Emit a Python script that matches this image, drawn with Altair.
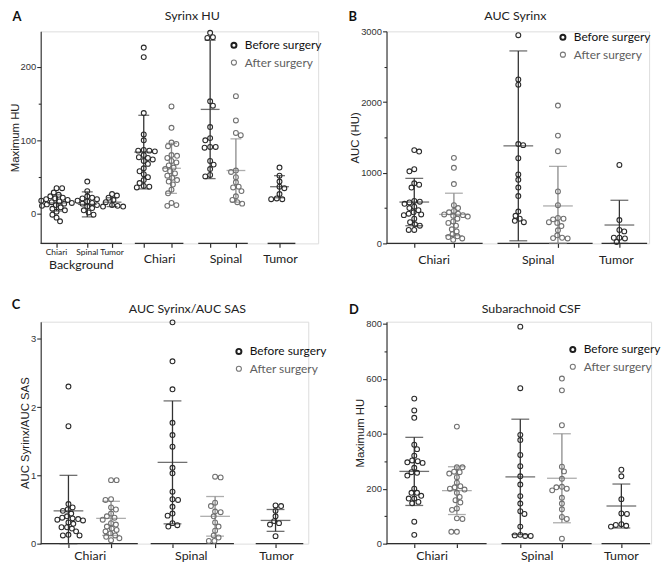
import altair as alt
import pandas as pd

FONT = "Lato"
BEFORE = "Before surgery"
AFTER = "After surgery"
AX = "#2e2e2e"

# ---------------- data ----------------
# Panel A: Syrinx HU (Maximum HU)
a_bg_chiari = [35, 35, 29, 26, 24, 22, 21, 20, 19, 18, 17, 16, 15, 14, 13, 12, 11, 9, 7, 5, 3, -1, -5, -10]
a_bg_spinal = [44, 31, 24, 22, 21, 20, 18, 17, 15, 14, 12, 10, 8, 5, 2, -1]
a_bg_tumor = [27, 25, 22, 19, 16, 12, 11, 10, 10]
a_chiari_before = [226, 213, 137, 108, 100, 87, 86, 86, 85, 80, 77, 76, 74, 72, 68, 62, 58, 54, 50, 46, 42, 38, 37, 36]
a_chiari_after = [146, 117, 97, 95, 92, 80, 79, 76, 72, 70, 66, 63, 61, 58, 55, 52, 49, 46, 44, 40, 33, 28, 15, 12, 11]
a_spinal_before = [246, 240, 239, 153, 147, 118, 103, 100, 91, 91, 90, 72, 67, 61, 53, 51]
a_spinal_after = [160, 127, 110, 107, 59, 57, 50, 43, 37, 36, 31, 24, 19, 16, 14]
a_tumor = [63, 52, 44, 37, 35, 27, 21, 20, 20]
a_mean = [15, 13, 16, 84, 62, 142, 59, 37]
a_sd = [11, 17, 6, 50, 34, 94, 43, 15]

# Panel B: AUC Syrinx
b_chiari_before = [1320, 1300, 1050, 1020, 850, 830, 790, 600, 590, 580, 560, 520, 500, 470, 440, 420, 410, 400, 350, 300, 270, 250, 190, 190]
b_chiari_after = [1210, 1070, 840, 540, 500, 460, 440, 420, 410, 400, 390, 380, 350, 310, 290, 250, 200, 170, 130, 100, 90, 70, 50]
b_spinal_before = [2945, 2320, 2245, 1405, 1390, 1205, 975, 900, 790, 670, 450, 390, 350, 320, 300]
b_spinal_after = [1950, 1525, 1305, 735, 540, 360, 350, 340, 300, 290, 245, 185, 115, 80, 75, 70]
b_tumor = [1110, 330, 190, 170, 80, 80, 70, 20]
b_mean = [585, 410, 1380, 530, 260]
b_sd = [335, 300, 1343, 560, 350]

# Panel C: AUC Syrinx / AUC SAS
c_chiari_before = [2.30, 1.72, 0.58, 0.53, 0.50, 0.48, 0.44, 0.40, 0.38, 0.37, 0.36, 0.35, 0.34, 0.31, 0.29, 0.24, 0.24, 0.22, 0.18, 0.13, 0.12, 0.12]
c_chiari_after = [0.93, 0.93, 0.65, 0.64, 0.53, 0.50, 0.44, 0.40, 0.38, 0.35, 0.30, 0.28, 0.25, 0.22, 0.20, 0.18, 0.15, 0.12, 0.10, 0.08, 0.05]
c_spinal_before = [3.24, 2.67, 2.26, 1.77, 1.59, 1.42, 1.11, 1.03, 0.76, 0.65, 0.64, 0.54, 0.44, 0.41, 0.30, 0.27, 0.25]
c_spinal_after = [0.98, 0.97, 0.60, 0.55, 0.47, 0.46, 0.40, 0.31, 0.25, 0.19, 0.12, 0.09, 0.04, 0.04]
c_tumor = [0.56, 0.55, 0.48, 0.40, 0.33, 0.30, 0.28, 0.11]
c_mean = [0.48, 0.37, 1.19, 0.40, 0.34]
c_sd = [0.52, 0.25, 0.90, 0.29, 0.16]

# Panel D: Subarachnoid CSF (Maximum HU)
d_chiari_before = [528, 485, 458, 360, 344, 320, 303, 300, 296, 294, 276, 260, 258, 248, 200, 185, 185, 174, 164, 164, 152, 147, 80, 32]
d_chiari_after = [426, 278, 278, 262, 260, 255, 242, 222, 209, 205, 200, 197, 185, 170, 158, 150, 128, 123, 92, 90, 43, 43]
d_spinal_before = [790, 566, 396, 377, 323, 282, 245, 215, 173, 146, 118, 108, 62, 32, 30, 28, 28]
d_spinal_after = [601, 558, 431, 280, 263, 236, 207, 205, 200, 194, 167, 146, 125, 97, 90, 18]
d_tumor = [269, 245, 162, 110, 108, 71, 68, 65, 62]
d_mean = [263, 193, 243, 238, 137]
d_sd = [124, 87, 210, 162, 80]

group_names = ["Chiari", "Spinal", "Tumor"]
legend_items = [BEFORE, AFTER]


# ---------------- helpers ----------------
def swarm(vals, ppu, diam=5.0, step=0.7):
    order = sorted(range(len(vals)), key=lambda i: -vals[i])
    placed, out = [], [0.0] * len(vals)
    flip = 1
    for i in order:
        y = vals[i] * ppu
        j = 0
        chosen = None
        while chosen is None:
            cands = [0.0] if j == 0 else [flip * j * step, -flip * j * step]
            for c in cands:
                if all((c - px) ** 2 + (y - py) ** 2 >= diam * diam for px, py in placed):
                    chosen = c
                    break
            j += 1
        if chosen != 0:
            flip = -flip
        placed.append((chosen, y))
        out[i] = chosen
    return out


def make_panel(p):
    W, H = p["width"], p["height"]
    y0, y1 = p["ydom"]
    ppu = H / (y1 - y0)
    pts, stats = [], []
    for (slot, vals, mean, sd, phase) in p["groups"]:
        offs = swarm(vals, ppu)
        for v, o in zip(vals, offs):
            pts.append({"x": slot + o, "v": v, "phase": phase})
        stats.append({"x": slot, "mean": mean, "lo": max(mean - sd, y0), "hi": mean + sd, "kind": phase})
    ptdf = pd.DataFrame(pts)
    stdf = pd.DataFrame(stats)
    segdf = pd.DataFrame([{"x1": a, "x2": b, "yb": y0} for a, b in p["segments"]])

    xs = alt.Scale(domain=[0, W], nice=False, zero=False)
    ys = alt.Scale(domain=[y0, y1], nice=False, zero=False)
    step = p["major"]
    xaxis = alt.Axis(values=[g[0] for g in p["groups"]], labels=False, domain=False, ticks=True,
                     tickSize=4, tickColor=AX, tickWidth=1.2, grid=False, title=None)
    yaxis = alt.Axis(values=p["yticks"], title=p["ytitle"], format="d",
                     labelExpr=f"datum.value % {step} === 0 ? datum.label : ''",
                     tickSize={"condition": {"test": f"datum.value % {step} === 0", "value": 4}, "value": 2.5},
                     domainColor=AX, tickColor=AX, labelColor="#333", labelFontSize=9.5,
                     titleFontSize=11.5, titleFontWeight="normal", titleColor="#222",
                     titlePadding=0, labelPadding=1, grid=False, domainWidth=1.1, tickWidth=1.1)

    def X(f):
        return alt.X(f, type="quantitative", scale=xs, axis=xaxis)

    def Y(f):
        return alt.Y(f, type="quantitative", scale=ys, axis=yaxis)

    cenc = alt.Color("kind:N", scale=alt.Scale(domain=[BEFORE, AFTER], range=["#333333", "#8a8a8a"]), legend=None)
    penc = alt.Stroke("phase:N", scale=alt.Scale(domain=[BEFORE, AFTER], range=["#2b2b2b", "#707070"]),
                      legend=None)

    seg = alt.Chart(segdf).mark_rule(color=AX, strokeWidth=1.4).encode(x=X("x1"), x2="x2", y=Y("yb"))
    bars = alt.Chart(stdf).mark_rule(strokeWidth=1.3).encode(x=X("x"), y=Y("lo"), y2="hi", color=cenc)
    caps = (alt.Chart(stdf).transform_fold(["lo", "hi"], as_=["k", "cap"])
            .mark_tick(orient="horizontal", size=p["cap_w"], thickness=1.3)
            .encode(x=X("x"), y=Y("cap"), color=cenc))
    means = (alt.Chart(stdf).mark_tick(orient="horizontal", size=p["mean_w"], thickness=1.3)
             .encode(x=X("x"), y=Y("mean"), color=cenc))
    points = (alt.Chart(ptdf).mark_point(filled=False, size=24, strokeWidth=1.1, opacity=1)
              .encode(x=X("x"), y=Y("v"), stroke=penc))

    labdf = pd.DataFrame(p["labels"], columns=["x", "t"])
    labs = (alt.Chart(labdf).mark_text(font=FONT, fontSize=12.5, color="#222", baseline="middle")
            .encode(x=X("x"), y=alt.value(H + p["label_dy"]), text="t:N"))
    layers = [seg, bars, caps, means, points, labs]
    if p.get("sublabels"):
        sdf = pd.DataFrame(p["sublabels"], columns=["x", "t"])
        layers.append(alt.Chart(sdf).mark_text(font=FONT, fontSize=8.5, color="#222", baseline="middle")
                      .encode(x=X("x"), y=alt.value(H + 9), text="t:N"))
        bdf = pd.DataFrame([p["biglabel"]], columns=["x", "t"])
        layers.append(alt.Chart(bdf).mark_text(font=FONT, fontSize=12.5, color="#222", baseline="middle")
                      .encode(x=X("x"), y=alt.value(H + 22), text="t:N"))

    # legend (symbol + label for each phase)
    lx, ly = p["legend"]
    styles = [("#1e1e1e", 2.0, "#111111"), ("#777777", 1.1, "#5e5e5e")]
    for i, name in enumerate(legend_items):
        sc, sw, tc = styles[i]
        d = pd.DataFrame({"t": [name]})
        layers.append(alt.Chart(d).mark_point(filled=False, size=26, strokeWidth=sw, color=sc, opacity=1)
                      .encode(x=alt.value(lx), y=alt.value(ly + 17.5 * i)))
        layers.append(alt.Chart(d).mark_text(font=FONT, fontSize=12, color=tc, align="left", baseline="middle")
                      .encode(x=alt.value(lx + 11), y=alt.value(ly + 17.5 * i), text="t:N"))

    tdf = pd.DataFrame({"t": [p["title"]]})
    layers.append(alt.Chart(tdf).mark_text(font=FONT, fontSize=12.5, color="#222", baseline="top")
                  .encode(x=alt.value(p["title_xy"][0]), y=alt.value(p["title_xy"][1]), text="t:N"))
    ldf = pd.DataFrame({"t": [p["letter"]]})
    layers.append(alt.Chart(ldf).mark_text(font=FONT, fontSize=13, fontWeight="bold", color="#111", baseline="top")
                  .encode(x=alt.value(p["letter_xy"][0]), y=alt.value(p["letter_xy"][1]), text="t:N"))
    return alt.layer(*layers).properties(width=W, height=H)


A = dict(
    letter="A", title="Syrinx HU", ytitle="Maximum HU", width=280, height=214, ydom=(-40, 248),
    major=100, yticks=[0, 50, 100, 150, 200],
    groups=[(16, a_bg_chiari, a_mean[0], a_sd[0], BEFORE), (47, a_bg_spinal, a_mean[1], a_sd[1], BEFORE),
            (72, a_bg_tumor, a_mean[2], a_sd[2], BEFORE),
            (104, a_chiari_before, a_mean[3], a_sd[3], BEFORE), (132, a_chiari_after, a_mean[4], a_sd[4], AFTER),
            (171, a_spinal_before, a_mean[5], a_sd[5], BEFORE), (197, a_spinal_after, a_mean[6], a_sd[6], AFTER),
            (241, a_tumor, a_mean[7], a_sd[7], BEFORE)],
    segments=[(0, 82), (95, 144), (159, 209), (229, 257)],
    labels=list(zip([120, 187, 242], group_names)),
    sublabels=list(zip([16, 47, 72], group_names)), biglabel=(41, "Background"),
    label_dy=16, legend=(195, 14), mean_w=19, cap_w=11,
    title_xy=(153, -21), letter_xy=(-24, -20))
B = dict(
    letter="B", title="AUC Syrinx", ytitle="AUC (HU)", width=265, height=214, ydom=(0, 3000),
    major=1000, yticks=[0, 500, 1000, 1500, 2000, 2500, 3000],
    groups=[(28, b_chiari_before, b_mean[0], b_sd[0], BEFORE), (68, b_chiari_after, b_mean[1], b_sd[1], AFTER),
            (133, b_spinal_before, b_mean[2], b_sd[2], BEFORE), (173, b_spinal_after, b_mean[3], b_sd[3], AFTER),
            (235, b_tumor, b_mean[4], b_sd[4], BEFORE)],
    segments=[(0, 97), (112, 208), (217, 263)],
    labels=list(zip([48, 153, 232], group_names)),
    label_dy=17, legend=(178, 6), mean_w=30, cap_w=18,
    title_xy=(130, -21), letter_xy=(-34, -20))
C = dict(
    letter="C", title="AUC Syrinx/AUC SAS", ytitle="AUC Syrinx/AUC SAS", width=270, height=224, ydom=(0, 3.25),
    major=1, yticks=[0, 0.5, 1, 1.5, 2, 2.5, 3],
    groups=[(28, c_chiari_before, c_mean[0], c_sd[0], BEFORE), (71, c_chiari_after, c_mean[1], c_sd[1], AFTER),
            (133, c_spinal_before, c_mean[2], c_sd[2], BEFORE), (176, c_spinal_after, c_mean[3], c_sd[3], AFTER),
            (237, c_tumor, c_mean[4], c_sd[4], BEFORE)],
    segments=[(0, 98), (111, 195), (217, 265)],
    labels=list(zip([50, 152, 238], group_names)),
    label_dy=13, legend=(200, 30), mean_w=30, cap_w=18,
    title_xy=(148, -19), letter_xy=(-25, -23))
D = dict(
    letter="D", title="Subarachnoid CSF", ytitle="Maximum HU", width=267, height=224, ydom=(0, 808),
    major=200, yticks=[0, 100, 200, 300, 400, 500, 600, 700, 800],
    groups=[(28, d_chiari_before, d_mean[0], d_sd[0], BEFORE), (71, d_chiari_after, d_mean[1], d_sd[1], AFTER),
            (135, d_spinal_before, d_mean[2], d_sd[2], BEFORE), (177, d_spinal_after, d_mean[3], d_sd[3], AFTER),
            (237, d_tumor, d_mean[4], d_sd[4], BEFORE)],
    segments=[(0, 101), (116, 207), (217, 266)],
    labels=list(zip([46, 152, 237], group_names)),
    label_dy=13, legend=(188, 28), mean_w=30, cap_w=18,
    title_xy=(146, -19), letter_xy=(-33, -18))

chart = alt.concat(make_panel(A), make_panel(B), make_panel(C), make_panel(D),
                   columns=2, spacing={"row": 26, "column": 21})
chart = chart.resolve_scale(color="independent", stroke="independent").properties(
    padding={"left": 0, "top": -1, "right": 0, "bottom": 0})
chart = (chart.configure_view(stroke=None)
         .configure_axis(labelFont=FONT, titleFont=FONT)
         .configure(background="white"))

chart.save("out.html", embed_options={"renderer": "svg", "actions": False})
